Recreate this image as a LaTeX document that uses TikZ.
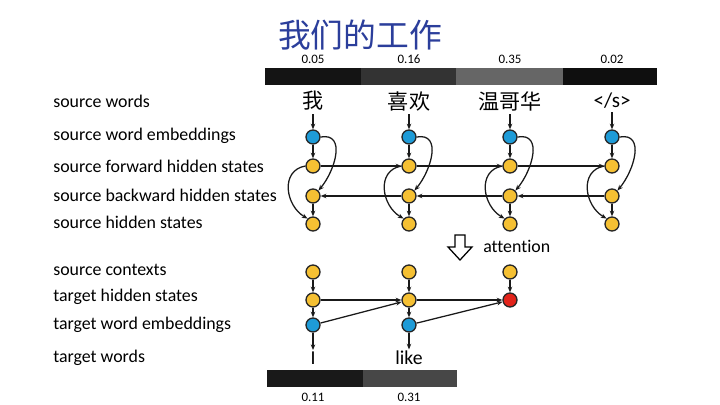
\documentclass[tikz,border=0pt]{standalone}
\usepackage{fontspec}
\setmainfont{Carlito}[Ligatures={TeX,NoCommon}]
\newfontfamily\cjk{Noto Sans CJK SC}
\usetikzlibrary{arrows.meta}
\definecolor{embblue}{HTML}{1E9BD7}
\definecolor{hidyellow}{HTML}{F5C033}
\definecolor{outred}{HTML}{E2231A}
\definecolor{titleblue}{HTML}{2B3E9B}
\begin{document}
\begin{tikzpicture}[x=0.025cm, y=-0.025cm, >={Stealth[length=4pt, width=3.2pt]},
			state/.style={circle, draw=black!85, line width=0.95pt, minimum size=0.35cm, inner sep=0pt},
			emb/.style={state, fill=embblue},
			hid/.style={state, fill=hidyellow},
			pred/.style={state, fill=outred},
			rowlabel/.style={anchor=west, inner sep=0pt, font=\fontsize{12.7}{14}\selectfont},
			word/.style={inner sep=1pt, font=\fontsize{15}{17}\selectfont},
			prob/.style={inner sep=0pt, font=\fontsize{9.2}{11}\selectfont},
			link/.style={->, line width=0.9pt, black!90}]
		\useasboundingbox (0,0) rectangle (720,405);

		\node[text=titleblue, font=\cjk\fontsize{23.3}{26}\selectfont] (title) at (360,35) {我们的工作};

		% attention bar over the source words
		\fill[black!92] (265,68) rectangle (361,85);
		\fill[black!80] (361,68) rectangle (456,85);
		\fill[black!60] (456,68) rectangle (563,85);
		\fill[black!94] (563,68) rectangle (657,85);
		\node[prob] (p1) at (313,59) {0.05};
		\node[prob] (p2) at (409,59) {0.16};
		\node[prob] (p3) at (510,59) {0.35};
		\node[prob] (p4) at (612,59) {0.02};

		\node[rowlabel] (l1) at (53,101) {source words};
		\node[rowlabel] (l2) at (53,136) {source word embeddings};
		\node[rowlabel] (l3) at (53,166) {source forward hidden states};
		\node[rowlabel] (l4) at (53,195) {source backward hidden states};
		\node[rowlabel] (l5) at (53,222) {source hidden states};
		\node[rowlabel] (l6) at (53,270) {source contexts};
		\node[rowlabel] (l7) at (53,297) {target hidden states};
		\node[rowlabel] (l8) at (53,325) {target word embeddings};
		\node[rowlabel] (l9) at (53,358) {target words};

		\node[word, font=\cjk\fontsize{15}{17}\selectfont] (s1) at (313,101) {我};
		\node[word, font=\cjk\fontsize{15}{17}\selectfont] (s2) at (409,101) {喜欢};
		\node[word, font=\cjk\fontsize{15}{17}\selectfont] (s3) at (510,101) {温哥华};
		\node[word] (s4) at (612,101) {</s>};

		\foreach \i/\x in {1/313, 2/409, 3/510, 4/612} {
			\node[emb] (e\i) at (\x,137) {};
			\node[hid] (f\i) at (\x,166) {};
			\node[hid] (b\i) at (\x,196) {};
			\node[hid] (h\i) at (\x,224) {};
			\draw[link] (s\i.south) ++(0,2) -- (e\i);
			\draw[link] (e\i) -- (f\i);
			\draw[link] (b\i) -- (h\i);
			\draw[link] (e\i.east) to[out=10, in=50, looseness=1.25] (b\i.north east);
			\draw[link] (f\i.west) to[out=190, in=150, looseness=1.25] (h\i.north west);
		}
		\foreach \i/\j in {1/2, 2/3, 3/4} {
			\draw[link] (f\i) -- (f\j);
			\draw[link] (b\j) -- (b\i);
		}

		% attention arrow
		\draw[line width=0.9pt, fill=white] (455,235) -- (465,235) -- (465,247) -- (472,247) -- (460,260)
			-- (448,247) -- (455,247) -- cycle;
		\node[rowlabel] (att) at (483,246) {attention};

		\node[hid] (c1) at (313,272) {};
		\node[hid] (c2) at (409,272) {};
		\node[hid] (c3) at (510,272) {};
		\node[hid] (t1) at (313,300) {};
		\node[hid] (t2) at (409,300) {};
		\node[pred] (t3) at (510,300) {};
		\node[emb] (y1) at (313,325) {};
		\node[emb] (y2) at (409,325) {};
		\node[word, font=\fontsize{14}{16}\selectfont] (w1) at (313,358) {I};
		\node[word, font=\fontsize{14}{16}\selectfont] (w2) at (409,358) {like};

		\draw[link] (c1) -- (t1);
		\draw[link] (c2) -- (t2);
		\draw[link] (c3) -- (t3);
		\draw[link] (t1) -- (t2);
		\draw[link] (t2) -- (t3);
		\draw[link] (t1) -- (y1);
		\draw[link] (t2) -- (y2);
		\draw[link] (y1) -- (t2);
		\draw[link] (y2) -- (t3);
		\draw[link] (y1) -- (w1.north);
		\draw[link] (y2) -- (w2.north);

		% attention bar under the target words
		\fill[black!90] (267,370) rectangle (363,387);
		\fill[black!72] (363,370) rectangle (457,387);
		\node[prob] (q1) at (313,397) {0.11};
		\node[prob] (q2) at (409,397) {0.31};
	\end{tikzpicture}
\end{document}
